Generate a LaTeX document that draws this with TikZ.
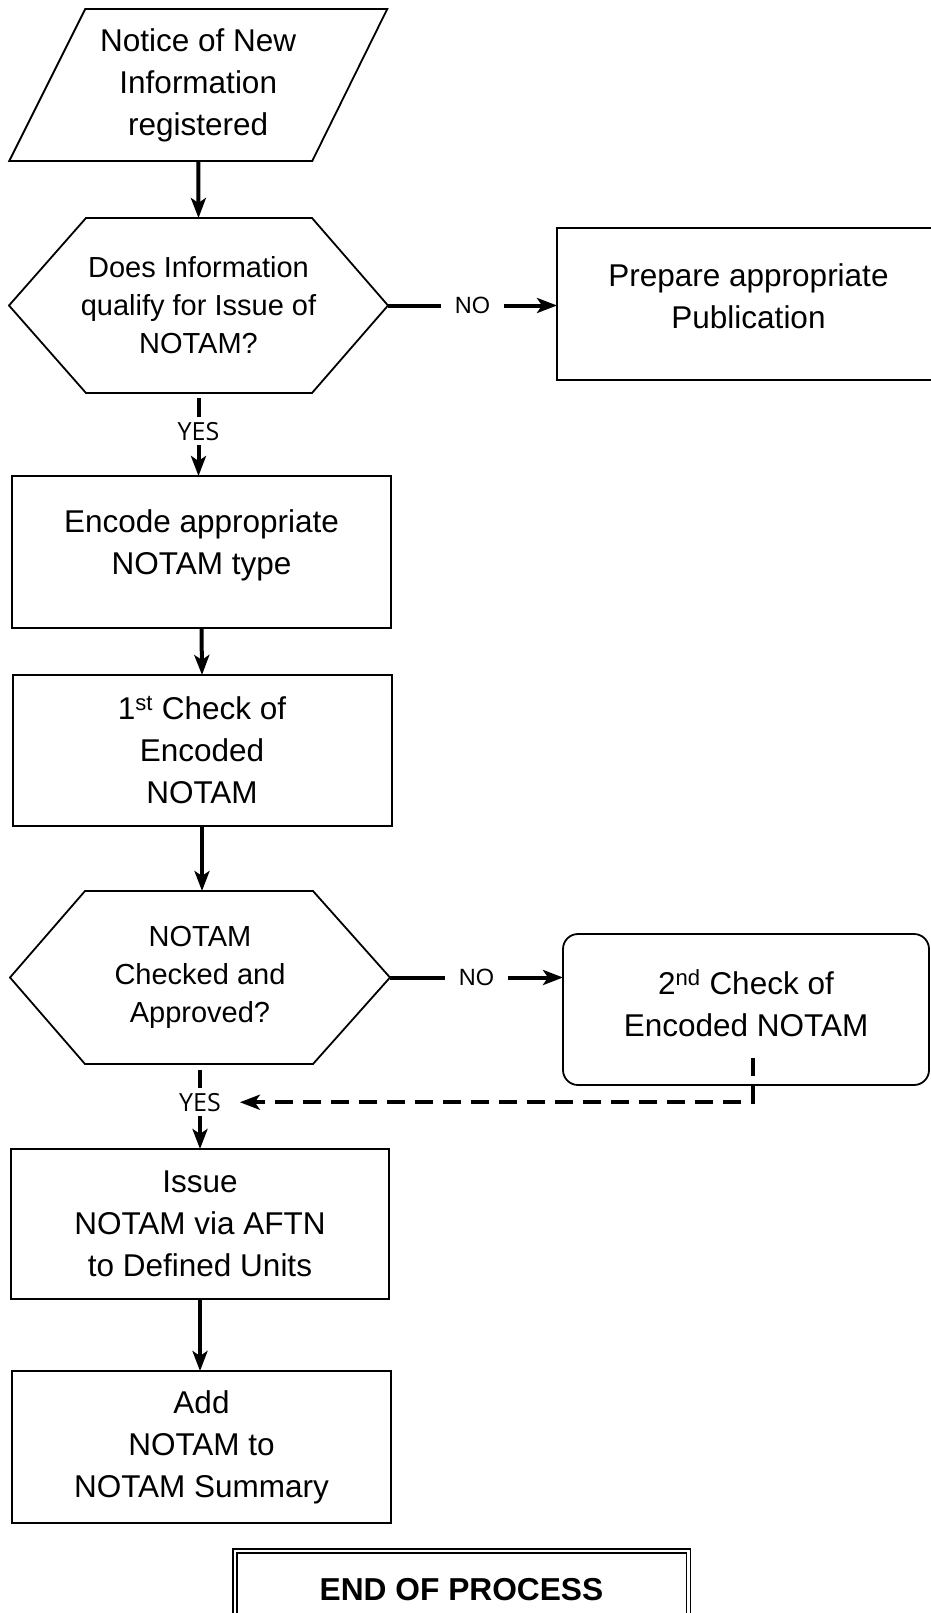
\documentclass[tikz,border=0pt]{standalone}
\usepackage{fontspec}
\setmainfont{Liberation Sans}
\newfontfamily\yesfont{Open Sans}
\usetikzlibrary{arrows.meta}
\begin{document}
\begin{tikzpicture}[x=1pt,y=-1pt,
  big/.style={font=\fontsize{31.5pt}{42pt}\selectfont, align=center},
  hexfont/.style={font=\fontsize{29pt}{38pt}\selectfont, align=center},
  shapeline/.style={line width=1.8pt},
  boxnode/.style={draw, line width=2pt, rectangle, inner sep=0pt, outer sep=0pt, big},
  ghost/.style={inner sep=0pt, outer sep=0pt},
  conn/.style={line width=4pt, -{Stealth[length=20pt,width=15pt,inset=5pt]}},
  nolabel/.style={font=\fontsize{23.5pt}{28pt}\selectfont, fill=white, inner xsep=14pt, inner ysep=2pt},
  yeslabel/.style={font=\yesfont\fontsize{25pt}{30pt}\selectfont, fill=white, inner xsep=3pt, inner ysep=5pt},
]
\useasboundingbox (0,0) rectangle (930,1613);

% input parallelogram
\node[ghost, minimum width=378pt, minimum height=152pt, big] (notice) at (198.25,85) {Notice of New\\Information\\registered};
\draw[shapeline] (notice.south west) -- ([xshift=-75pt]notice.south east) -- (notice.north east) -- ([xshift=76pt]notice.north west) -- cycle;

% decision 1
\node[ghost, minimum width=379pt, minimum height=175pt, hexfont] (hex1) at (198.5,305.5) {Does Information\\qualify for Issue of\\NOTAM?};
\draw[shapeline] (hex1.west) -- ([xshift=77pt]hex1.north west) -- ([xshift=-76pt]hex1.north east) -- (hex1.east) -- ([xshift=-76pt]hex1.south east) -- ([xshift=77pt]hex1.south west) -- cycle;

\node[boxnode, minimum width=383pt, minimum height=152pt, label={[big,yshift=8pt]center:{Prepare appropriate\\Publication}}] (prep) at (748.5,304) {};

\node[boxnode, minimum width=379pt, minimum height=152pt, label={[big,yshift=7pt]center:{Encode appropriate\\NOTAM type}}] (encode) at (201.5,552) {};

\node[boxnode, minimum width=379pt, minimum height=151pt] (check1) at (202,750.5) {1\textsuperscript{st} Check of\\Encoded\\NOTAM};

% decision 2
\node[ghost, minimum width=380pt, minimum height=173pt, hexfont] (hex2) at (200,977.5) {NOTAM\\Checked and\\Approved?};
\draw[shapeline] (hex2.west) -- ([xshift=75pt]hex2.north west) -- ([xshift=-77pt]hex2.north east) -- (hex2.east) -- ([xshift=-77pt]hex2.south east) -- ([xshift=75pt]hex2.south west) -- cycle;

\node[boxnode, line width=1.8pt, rounded corners=15pt, minimum width=366pt, minimum height=151pt, label={[big,yshift=6pt]center:{2\textsuperscript{nd} Check of\\Encoded NOTAM}}] (rbox) at (746,1009.5) {};

\node[boxnode, minimum width=378pt, minimum height=150pt] (issue) at (200,1224) {Issue\\NOTAM via AFTN\\to Defined Units};

\node[boxnode, minimum width=379pt, minimum height=152pt] (add) at (201.5,1447) {Add\\NOTAM to\\NOTAM Summary};

\node[draw, double, line width=1.5pt, double distance=2.5pt, inner sep=0pt, outer sep=0pt, minimum width=453.5pt, minimum height=89pt,
  label={[font=\bfseries\fontsize{31.7pt}{38pt}\selectfont, yshift=5.5pt]center:END OF PROCESS}] (endp) at (461.5,1595.5) {};

% connectors
\draw[conn] (notice.south) -- (hex1.north);
\draw[conn] (hex1.east) -- node[nolabel]{NO} (hex1.east -| prep.west);
\draw[conn, shorten <=5pt] (hex1.south) -- node[yeslabel, pos=0.46] (yes1) {YES} (hex1.south |- encode.north);
\draw[conn] (encode.south) -- (check1.north);
\draw[conn] (check1.south) -- (check1.south |- hex2.north);
\draw[conn] (hex2.east) -- node[nolabel]{NO} (hex2.east -| rbox.west);
\draw[conn, shorten <=6pt] (hex2.south) -- node[yeslabel, pos=0.45] (yes2) {YES} (hex2.south |- issue.north);
\draw[conn, dash pattern=on 18pt off 10pt, shorten >=14pt] ([xshift=7pt,yshift=27pt]rbox.south) |- (yes2);
\draw[conn] (issue.south) -- (issue.south |- add.north);
\end{tikzpicture}
\end{document}
